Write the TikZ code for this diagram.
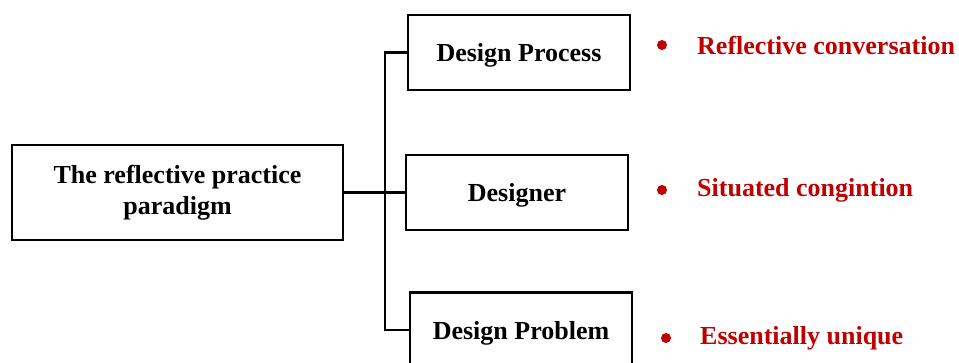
\documentclass[tikz,border=0pt]{standalone}
\usepackage{fontspec}
\setmainfont{Liberation Serif}
\definecolor{bred}{RGB}{192,0,0}
\begin{document}
\begin{tikzpicture}[x=1pt,y=-1pt,
  box/.style={draw=black,line width=2.6pt,rectangle,inner sep=0pt,align=center,font=\fontsize{26}{31}\selectfont\bfseries},
  small/.style={box,minimum width=222pt,minimum height=75pt,text depth=0pt},
  conn/.style={draw=black,line width=2.6pt},
  item/.style={anchor=west,inner sep=0pt,text=bred,font=\fontsize{26}{30}\selectfont\bfseries},
  dot/.style={circle,fill=bred,inner sep=0pt,minimum size=10pt}]
\useasboundingbox (0,0) rectangle (959,362);
\node[box,minimum width=331pt,minimum height=95pt] (main) at (177.5,192.5) {The reflective practice\\paradigm};
\node[small] (dp) at (519,52.5) {Design Process};
\node[small] (dsg) at (517,192.5) {Designer};
\node[small] (dprob) at (521,330) {Design Problem};
\coordinate (spine) at (385,192.5);
\draw[conn] (main.east) -- (dsg.west);
\draw[conn] (dp.west) -| (spine) |- (dprob.west);
\node[dot] (b1) at (662,45) {};
\node[item] (t1) at (697,45) {Reflective conversation};
\node[dot] (b2) at (662,190) {};
\node[item] (t2) at (697,190) {Situated congintion};
\node[dot] (b3) at (666,338) {};
\node[item] (t3) at (700,338) {Essentially unique};
\end{tikzpicture}
\end{document}
